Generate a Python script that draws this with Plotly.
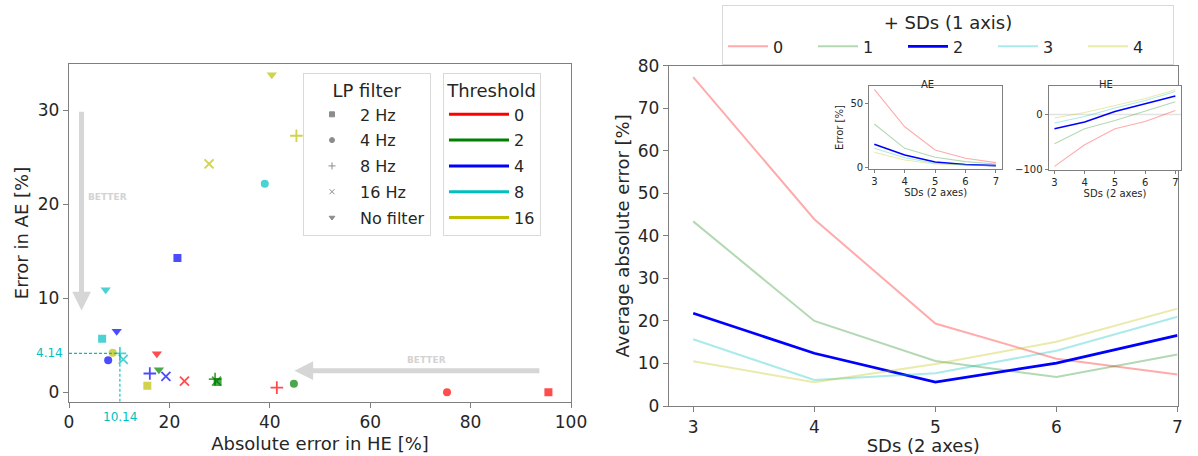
import plotly.graph_objects as go

W, H = 1198, 456
FONT = "DejaVu Sans"
TXT = "#262626"
SPINE = "#7f7f7f"

# ---------------- left panel: per-threshold scatter ----------------
lp_filters = ["2 Hz", "4 Hz", "8 Hz", "16 Hz", "No filter"]
lp_symbols = ["square", "circle", "cross-thin", "x-thin", "triangle-down"]
thresholds = ["0", "2", "4", "8", "16"]
threshold_colors = ["#ff0000", "#008000", "#0000ff", "#00bfbf", "#bfbf00"]

# absolute error in HE [%], one value per LP filter (2, 4, 8, 16 Hz, none)
he_t0 = [95.5, 75.3, 41.4, 23.0, 17.5]
he_t2 = [29.6, 44.8, 29.1, 29.4, 17.9]
he_t4 = [21.6, 7.8, 16.1, 19.3, 9.5]
he_t8 = [6.6, 39.0, 10.14, 10.8, 7.3]
he_t16 = [15.6, 8.7, 45.3, 27.9, 40.4]

# error in AE [%]
ae_t0 = [0.0, 0.0, 0.5, 1.2, 4.1]
ae_t2 = [1.1, 0.9, 1.4, 1.2, 2.4]
ae_t4 = [14.3, 3.4, 2.0, 1.7, 6.5]
ae_t8 = [5.7, 22.2, 4.14, 3.5, 10.9]
ae_t16 = [0.7, 4.2, 27.3, 24.3, 33.8]

# highlighted best point (threshold 8, 8 Hz)
best_he = he_t8[2]
best_ae = ae_t8[2]

# ---------------- right panel: error vs SDs ----------------
sds_2axes = [3, 4, 5, 6, 7]
sds_1axis = ["0", "1", "2", "3", "4"]
sd_colors = ["rgba(255,0,0,0.33)", "rgba(0,128,0,0.3)", "#0000ff",
             "rgba(0,191,191,0.33)", "rgba(191,191,0,0.33)"]
sd_widths = [2, 2, 2.8, 2, 2]

avg_err_0 = [77.3, 43.9, 19.4, 11.1, 7.4]
avg_err_1 = [43.4, 20.0, 10.6, 6.8, 12.1]
avg_err_2 = [21.8, 12.4, 5.6, 10.1, 16.6]
avg_err_3 = [15.7, 6.1, 7.7, 13.0, 21.0]
avg_err_4 = [10.5, 5.6, 9.9, 15.1, 22.9]

ae_err_0 = [60.9, 31.7, 13.5, 7.0, 3.6]
ae_err_1 = [33.8, 14.8, 7.8, 4.4, 2.6]
ae_err_2 = [18.0, 9.6, 4.1, 2.1, 1.3]
ae_err_3 = [14.8, 7.5, 3.1, 1.9, 1.3]
ae_err_4 = [11.7, 5.7, 2.6, 1.6, 1.0]

he_err_0 = [-94.0, -54.8, -25.9, -12.7, 7.2]
he_err_1 = [-53.0, -25.9, -10.8, 5.4, 23.0]
he_err_2 = [-25.9, -13.7, 5.4, 19.3, 33.2]
he_err_3 = [-15.6, -3.6, 11.6, 25.3, 41.6]
he_err_4 = [-6.5, 3.6, 16.3, 28.9, 44.7]


def fx(p):
    return p / W


def fy(p):
    return 1 - p / H


fig = go.Figure()

# scatter points, one trace per threshold
he_rows = [he_t0, he_t2, he_t4, he_t8, he_t16]
ae_rows = [ae_t0, ae_t2, ae_t4, ae_t8, ae_t16]
for thr, col, hx, ay in zip(thresholds, threshold_colors, he_rows, ae_rows):
    fig.add_trace(go.Scatter(
        x=hx, y=ay, mode="markers", showlegend=False,
        xaxis="x", yaxis="y",
        marker=dict(symbol=lp_symbols, size=[8, 8, 9, 9, 9], color=col,
                    line=dict(color=col, width=[0, 0, 1.8, 1.8, 0])),
        text=lp_filters, name=f"Threshold {thr}",
    ))

# legend entries: LP filter symbols
for name, sym in zip(lp_filters, lp_symbols):
    fig.add_trace(go.Scatter(
        x=[None], y=[None], mode="markers", name=name, legend="legend",
        legendgroup=name, xaxis="x", yaxis="y",
        marker=dict(symbol=sym, size=5, color="#8c8c8c",
                    line=dict(color="#8c8c8c", width=1)),
    ))

# legend entries: threshold colours
for thr, col in zip(thresholds, threshold_colors):
    fig.add_trace(go.Scatter(
        x=[None], y=[None], mode="lines", name=thr, legend="legend2",
        legendgroup="t" + thr, xaxis="x", yaxis="y",
        line=dict(color=col, width=3),
    ))

# right main panel lines
avg_rows = [avg_err_0, avg_err_1, avg_err_2, avg_err_3, avg_err_4]
ae_in_rows = [ae_err_0, ae_err_1, ae_err_2, ae_err_3, ae_err_4]
he_in_rows = [he_err_0, he_err_1, he_err_2, he_err_3, he_err_4]
for lab, col, wd, yv in zip(sds_1axis, sd_colors, sd_widths, avg_rows):
    fig.add_trace(go.Scatter(
        x=sds_2axes, y=yv, mode="lines", name=lab, legend="legend3",
        xaxis="x2", yaxis="y2", line=dict(color=col, width=wd),
    ))

# HE zero reference line
fig.add_trace(go.Scatter(x=[2.8, 7.2], y=[0, 0], mode="lines", showlegend=False,
                         xaxis="x4", yaxis="y4",
                         line=dict(color="#e3e3e3", width=1.5)))

for col, wd, ya, yh in zip(sd_colors, sd_widths, ae_in_rows, he_in_rows):
    w_in = 1.6 if wd > 2 else 1.1
    fig.add_trace(go.Scatter(x=sds_2axes, y=ya, mode="lines", showlegend=False,
                             xaxis="x3", yaxis="y3",
                             line=dict(color=col, width=w_in)))
    fig.add_trace(go.Scatter(x=sds_2axes, y=yh, mode="lines", showlegend=False,
                             xaxis="x4", yaxis="y4",
                             line=dict(color=col, width=w_in)))


def ax_style(size, **kw):
    d = dict(showline=True, mirror=True, linecolor=SPINE, linewidth=1.3,
             ticks="outside", ticklen=5 if size > 12 else 3, tickwidth=1.1,
             tickcolor=SPINE, showgrid=False, zeroline=False,
             tickfont=dict(family=FONT, size=size, color=TXT),
             automargin=False)
    d.update(kw)
    return d


big = 17
small = 10

fig.update_layout(
    width=W, height=H,
    margin=dict(l=0, r=0, t=0, b=0, autoexpand=False),
    paper_bgcolor="white", plot_bgcolor="white",
    font=dict(family=FONT, color=TXT),
    xaxis=ax_style(big, domain=[fx(69), fx(571)], range=[0, 100],
                   tickvals=[0, 20, 40, 60, 80, 100], anchor="y",
                   title=dict(text="Absolute error in HE [%]",
                              font=dict(size=big + 1, family=FONT, color=TXT),
                              standoff=6)),
    yaxis=ax_style(big, domain=[fy(401.7), fy(64.3)], range=[-1.0, 34.9],
                   tickvals=[0, 10, 20, 30], anchor="x",
                   title=dict(text="Error in AE [%]",
                              font=dict(size=big + 1, family=FONT, color=TXT),
                              standoff=4)),
    xaxis2=ax_style(big, domain=[fx(669), fx(1177.5)], range=[2.8, 7.0],
                    tickvals=sds_2axes, anchor="y2",
                    title=dict(text="SDs (2 axes)",
                               font=dict(size=big + 1, family=FONT, color=TXT),
                               standoff=4)),
    yaxis2=ax_style(big, domain=[fy(406), fy(65.7)], range=[0, 80],
                    tickvals=list(range(0, 81, 10)), anchor="x2",
                    title=dict(text="Average absolute error [%]",
                               font=dict(size=big + 1, family=FONT, color=TXT),
                               standoff=3)),
    xaxis3=ax_style(small, domain=[fx(869.3), fx(1002)], range=[2.835, 7.2],
                    tickvals=sds_2axes, anchor="y3",
                    title=dict(text="SDs (2 axes)",
                               font=dict(size=small, family=FONT, color=TXT),
                               standoff=2)),
    yaxis3=ax_style(small, domain=[fy(169.3), fy(85.7)], range=[-1.6, 63.8],
                    tickvals=[0, 50], anchor="x3",
                    title=dict(text="Error [%]",
                               font=dict(size=small, family=FONT, color=TXT),
                               standoff=4)),
    xaxis4=ax_style(small, domain=[fx(1048.7), fx(1181.4)], range=[2.81, 7.2],
                    tickvals=sds_2axes, anchor="y4",
                    title=dict(text="SDs (2 axes)",
                               font=dict(size=small, family=FONT, color=TXT),
                               standoff=2)),
    yaxis4=ax_style(small, domain=[fy(170), fy(85.7)], range=[-100.5, 52],
                    tickvals=[-100, 0], ticktext=["\u2212100", "0"], anchor="x4"),
    legend=dict(
        x=fx(303), y=fy(73), xanchor="left", yanchor="top",
        bgcolor="rgba(255,255,255,0.85)", bordercolor="#d9d9d9", borderwidth=1,
        font=dict(family=FONT, size=16, color=TXT),
        title=dict(text="LP filter", side="top center",
                   font=dict(family=FONT, size=18, color=TXT)),
        tracegroupgap=2, itemsizing="trace", itemwidth=46,
    ),
    legend2=dict(
        x=fx(443), y=fy(73), xanchor="left", yanchor="top",
        bgcolor="rgba(255,255,255,0.85)", bordercolor="#d9d9d9", borderwidth=1,
        font=dict(family=FONT, size=16, color=TXT),
        title=dict(text="Threshold", side="top center",
                   font=dict(family=FONT, size=18, color=TXT)),
        tracegroupgap=2, itemwidth=60,
    ),
    legend3=dict(
        orientation="h", x=fx(722), y=fy(5), xanchor="left", yanchor="top",
        bgcolor="white", bordercolor="#d9d9d9", borderwidth=1,
        font=dict(family=FONT, size=16, color=TXT),
        title=dict(text="+ SDs (1 axis)", side="top center",
                   font=dict(family=FONT, size=18, color=TXT)),
        entrywidth=35, entrywidthmode="pixels", itemwidth=40,
    ),
)

ARROW = "#d6d6d6"
annotations = [
    # vertical "better" arrow
    dict(x=2.5, y=8.7, ax=2.5, ay=30, xref="x", yref="y", axref="x", ayref="y",
         showarrow=True, arrowhead=2, arrowsize=0.75, arrowwidth=5,
         arrowcolor=ARROW, text=""),
    dict(x=7.7, y=20.8, xref="x", yref="y", text="<b>BETTER</b>", showarrow=False,
         font=dict(family=FONT, size=9, color="#d3d3d3")),
    # horizontal "better" arrow
    dict(x=44.9, y=2.3, ax=94, ay=2.3, xref="x", yref="y", axref="x", ayref="y",
         showarrow=True, arrowhead=2, arrowsize=0.75, arrowwidth=5,
         arrowcolor=ARROW, text=""),
    dict(x=71.2, y=3.4, xref="x", yref="y", text="<b>BETTER</b>", showarrow=False,
         font=dict(family=FONT, size=9, color="#d3d3d3")),
    # labels of the highlighted point
    dict(x=0, y=best_ae, xref="x", yref="y", text=f"{best_ae:.2f}", showarrow=False,
         xanchor="right", xshift=-4, font=dict(family=FONT, size=12, color="#00bfbf")),
    dict(x=best_he, y=fy(417), xref="x", yref="paper", text=f"{best_he:.2f}",
         showarrow=False, yanchor="middle",
         font=dict(family=FONT, size=12, color="#00bfbf")),
    # inset titles
    dict(x=(fx(869.3) + fx(1002)) / 2, y=fy(77), xref="paper", yref="paper",
         text="AE", showarrow=False, font=dict(family=FONT, size=10, color=TXT)),
    dict(x=(fx(1048.7) + fx(1181.4)) / 2, y=fy(77), xref="paper", yref="paper",
         text="HE", showarrow=False, font=dict(family=FONT, size=10, color=TXT)),
]
fig.update_layout(annotations=annotations)

fig.update_layout(shapes=[
    dict(type="line", xref="x", yref="y", x0=0, x1=best_he, y0=best_ae, y1=best_ae,
         line=dict(color="#00bfbf", width=1.1, dash="3px,2px")),
    dict(type="line", xref="x", yref="y", x0=best_he, x1=best_he, y0=-1.0, y1=best_ae,
         line=dict(color="#00bfbf", width=1.1, dash="3px,2px")),
])

fig.write_html("out.html")
